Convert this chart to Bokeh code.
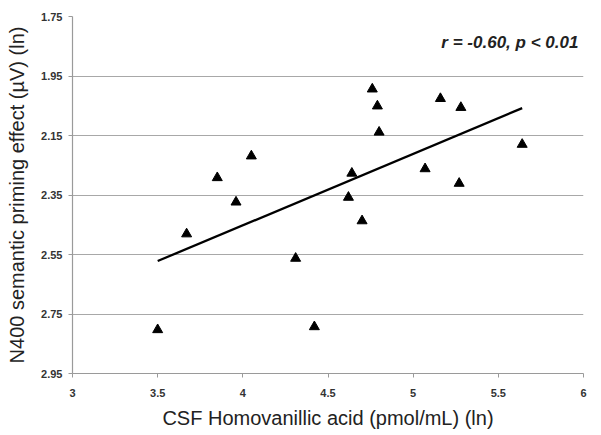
from bokeh.plotting import figure
from bokeh.models import Range1d, FixedTicker, Label
from bokeh.embed import file_html
from bokeh.resources import INLINE

# Data
hva = [3.50, 3.67, 3.85, 3.96, 4.05, 4.31, 4.42, 4.62, 4.64, 4.70, 4.76, 4.79, 4.80, 5.07, 5.16, 5.28, 5.27, 5.64]
n400 = [2.803, 2.481, 2.292, 2.374, 2.219, 2.563, 2.793, 2.358, 2.277, 2.437, 1.994, 2.051, 2.139, 2.262, 2.026, 2.056, 2.311, 2.180]
fit_x = [3.50, 5.64]
fit_y = [2.572, 2.058]
x_ticks = [3, 3.5, 4, 4.5, 5, 5.5, 6]
x_tick_labels = ["3", "3.5", "4", "4.5", "5", "5.5", "6"]
y_ticks = [1.75, 1.95, 2.15, 2.35, 2.55, 2.75, 2.95]
y_tick_labels = ["1.75", "1.95", "2.15", "2.35", "2.55", "2.75", "2.95"]
stat_text = "r = -0.60, p < 0.01"
stat_pos = (5.97, 1.837)

p = figure(width=593, height=431, output_backend="svg", toolbar_location=None,
           x_range=Range1d(3, 6), y_range=Range1d(2.95, 1.75),
           min_border_left=72, min_border_right=10, min_border_top=16, min_border_bottom=58)
p.outline_line_color = None
p.background_fill_color = "white"
p.border_fill_color = "white"

p.xgrid.grid_line_color = None
p.ygrid.grid_line_color = "#a8a8a8"
p.ygrid.grid_line_width = 1.2

p.xaxis.ticker = FixedTicker(ticks=x_ticks)
p.yaxis.ticker = FixedTicker(ticks=y_ticks)
p.xaxis.major_label_overrides = {t: l for t, l in zip(x_ticks, x_tick_labels)}
p.yaxis.major_label_overrides = {t: l for t, l in zip(y_ticks, y_tick_labels)}

for ax in (p.xaxis[0], p.yaxis[0]):
    ax.axis_line_color = "#9a9a9a"
    ax.axis_line_width = 1.2
    ax.major_tick_line_color = "#9a9a9a"
    ax.major_tick_out = 4
    ax.major_tick_in = 0
    ax.minor_tick_line_color = None
    ax.major_label_text_font = "Liberation Sans"
    ax.major_label_text_font_style = "bold"
    ax.major_label_text_font_size = "11px"
    ax.major_label_text_color = "#333333"
    ax.axis_label_text_font = "Liberation Sans"
    ax.axis_label_text_font_style = "normal"
    ax.axis_label_text_font_size = "20px"
    ax.axis_label_text_color = "#222222"

p.xaxis.axis_label = "CSF Homovanillic acid (pmol/mL) (ln)"
p.yaxis.axis_label = "N400 semantic priming effect (µV) (ln)"
p.xaxis.major_label_standoff = 11
p.yaxis.major_label_standoff = 6
p.xaxis.axis_label_standoff = 7
p.yaxis.axis_label_standoff = 10

p.line(fit_x, fit_y, line_color="black", line_width=2.3)
p.scatter(hva, n400, marker="triangle", size=10, fill_color="black", line_color="black")

lbl = Label(x=stat_pos[0], y=stat_pos[1], text=stat_text, text_align="right",
            text_baseline="middle", text_font="Liberation Sans", text_font_style="bold italic",
            text_font_size="17px", text_color="#222222")
p.add_layout(lbl)

open("out.html", "w").write(file_html(p, INLINE))
